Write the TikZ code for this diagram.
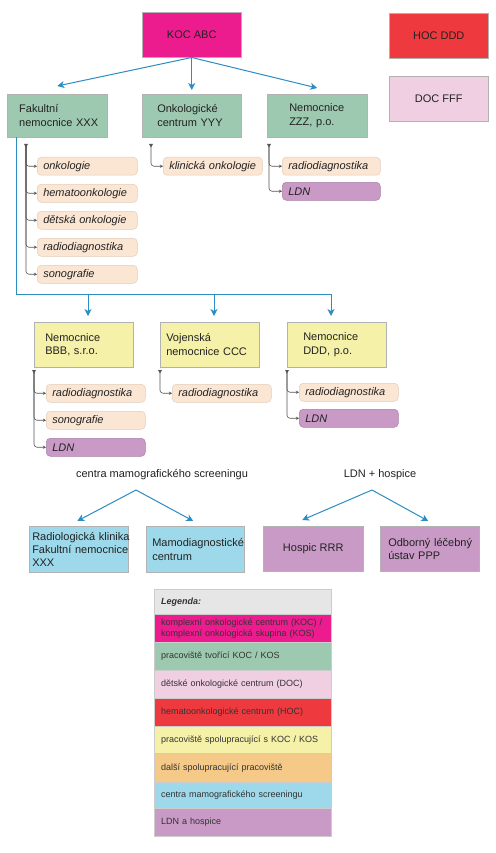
\documentclass[tikz,border=0pt]{standalone}
\usepackage{fontspec}
\setmainfont{Liberation Sans}
\usetikzlibrary{arrows.meta,calc}
\definecolor{cKOC}{HTML}{EC1C8E}
\definecolor{cRed}{HTML}{EE3A3E}
\definecolor{cPink}{HTML}{F0CFE3}
\definecolor{cGreen}{HTML}{9DC9B0}
\definecolor{cYellow}{HTML}{F5F1A9}
\definecolor{cOrange}{HTML}{F5CA88}
\definecolor{cBlue}{HTML}{9DD9EA}
\definecolor{cPurple}{HTML}{C99AC6}
\definecolor{cPeach}{HTML}{FBE6D4}
\definecolor{cPeachD}{HTML}{E3CDB9}
\definecolor{cPurpleD}{HTML}{A97EA6}
\definecolor{cGray}{HTML}{E6E6E6}
\definecolor{cArrow}{HTML}{2B8DC2}
\definecolor{cSub}{HTML}{555555}
\definecolor{cText}{HTML}{222222}
\begin{document}
\begin{tikzpicture}[x=1pt,y=-1pt,
  box/.style={draw=black!30, line width=0.5pt, minimum height=45pt, inner sep=0pt,
    font=\fontsize{11}{13.5}\selectfont, text=cText, anchor=north west},
  cbox/.style={box, minimum width=#1, align=center},
  lbox/.style 2 args={box, text width=#1, align=left, execute at begin node={\leftskip=#2\relax}},
  sbox/.style={draw=cPeachD, fill=cPeach, line width=0.5pt, rounded corners=4pt, minimum height=18pt,
    text width=#1, inner sep=0pt, align=left, font=\fontsize{11}{13}\selectfont\itshape, text=cText,
    anchor=north west, execute at begin node={\leftskip=6pt\relax}},
  ldn/.style={sbox=#1, fill=cPurple, draw=cPurpleD},
  leg/.style={anchor=north west, minimum height=#1, text width=177pt, inner sep=0pt, align=left,
    font=\fontsize{9}{11}\selectfont, text=black!80, draw=black!20, line width=0.4pt,
    execute at begin node={\leftskip=7pt\relax}},
  bl/.style={draw=cArrow, line width=1pt},
  bla/.style={bl, -{Stealth[length=7pt,width=7pt,inset=2pt]}},
  sub/.style={draw=cSub, line width=0.6pt, rounded corners=3pt, -{Stealth[length=3pt,width=3pt]}},
  ttl/.style={font=\fontsize{11}{13}\selectfont, text=cText}
]
\useasboundingbox (0,0) rectangle (495,853);
\fill[white] (0,0) rectangle (495,853);

% top row
\node[cbox=99pt, fill=cKOC] (koc) at (142,12) {KOC ABC};
\node[cbox=99pt, fill=cRed] (hoc) at (389,13) {HOC DDD};
\node[cbox=99pt, fill=cPink] (doc) at (389,76) {DOC FFF};

\node[lbox={100pt}{12pt}, fill=cGreen, minimum height=43pt] (fk) at (7,94) {Fakultní\\nemocnice~XXX};
\node[lbox={99pt}{15pt}, fill=cGreen, minimum height=43pt] (onk) at (142,94) {Onkologické\\centrum~YYY};
\node[lbox={100pt}{22pt}, fill=cGreen, minimum height=43pt] (zzz) at (267,94) {Nemocnice\\ZZZ,~p.o.};

\draw[bla] (koc.south) -- ($(fk.north)+(0,-8)$);
\draw[bla] (koc.south) -- ($(onk.north)+(0,-4)$);
\draw[bla] (koc.south) -- ($(zzz.north)+(0,-6)$);

% sub-lists row 1
\coordinate (fkt) at (26,145);
\coordinate (onkt) at (151,145);
\coordinate (zzzt) at (269,145);
\node[sbox=100pt] (f1) at (37,157) {onkologie};
\node[sbox=100pt] (f2) at (37,184) {hematoonkologie};
\node[sbox=100pt] (f3) at (37,211) {dětská onkologie};
\node[sbox=100pt] (f4) at (37,238) {radiodiagnostika};
\node[sbox=100pt] (f5) at (37,265) {sonografie};
\node[sbox=99pt] (o1) at (163,157) {klinická onkologie};
\node[sbox=98pt] (z1) at (282,157) {radiodiagnostika};
\node[ldn=98pt] (z2) at (282,182) {LDN};
\foreach \n in {f1,f2,f3,f4,f5} \draw[sub] (fkt) |- (\n.west);
\draw[sub] (onkt) |- (o1.west);
\foreach \n in {z1,z2} \draw[sub] (zzzt) |- (\n.west);

% bus to second row
\coordinate (b1) at (88,294);
\coordinate (b2) at (214,294);
\coordinate (b3) at (331,294);
\draw[bl] ($(fk.south west)+(9,0)$) |- (b3);

\node[lbox={99pt}{11pt}, fill=cYellow] (bbb) at (34,322) {Nemocnice\\BBB,~s.r.o.};
\node[lbox={99pt}{6pt}, fill=cYellow] (voj) at (160,322) {Vojenská\\nemocnice~CCC};
\node[lbox={99pt}{16pt}, fill=cYellow] (ddd) at (287,322) {Nemocnice\\DDD,~p.o.};

\draw[bla] (b1) -- ($(b1 |- bbb.north)+(0,-6)$);
\draw[bla] (b2) -- ($(b2 |- voj.north)+(0,-6)$);
\draw[bla] (b3) -- ($(b3 |- ddd.north)+(0,-6)$);

% sub-lists row 2
\coordinate (bbbt) at (34,371);
\coordinate (vojt) at (160,371);
\coordinate (dddt) at (287,371);
\node[sbox=99pt] (bb1) at (46,384) {radiodiagnostika};
\node[sbox=99pt] (bb2) at (46,411) {sonografie};
\node[ldn=99pt] (bb3) at (46,438) {LDN};
\node[sbox=99pt] (v1) at (172,384) {radiodiagnostika};
\node[sbox=99pt] (d1) at (299,383) {radiodiagnostika};
\node[ldn=99pt] (d2) at (299,409) {LDN};
\foreach \n in {bb1,bb2,bb3} \draw[sub] (bbbt) |- (\n.west);
\draw[sub] (vojt) |- (v1.west);
\foreach \n in {d1,d2} \draw[sub] (dddt) |- (\n.west);

% top marks
\foreach \c in {fkt,onkt,zzzt,bbbt,vojt,dddt}
  \fill[cSub] ($(\c)+(-2,-1)$) -- ($(\c)+(2,-1)$) -- ($(\c)+(0,2.5)$) -- cycle;

% bottom groups
\node[ttl] (mt) at (162,475) {centra mamografického screeningu};
\node[ttl] (lt) at (380,475) {LDN + hospice};
\coordinate (ms) at (136,490);
\coordinate (ls) at (372,490);

\node[lbox={99pt}{3pt}, fill=cBlue, minimum height=46pt, font=\fontsize{11}{13.3}\selectfont] (rad) at (29,526) {Radiologická~klinika\\Fakultní~nemocnice\\XXX};
\node[lbox={98pt}{6pt}, fill=cBlue, minimum height=46pt] (mam) at (146,526) {Mamodiagnostické\\centrum};
\node[cbox=100pt, fill=cPurple] (hos) at (263,526) {Hospic RRR};
\node[lbox={99pt}{8pt}, fill=cPurple] (odb) at (380,526) {Odborný~léčebný\\ústav~PPP};

\draw[bla] (ms) -- ($(rad.north)+(-1.5,-5)$);
\draw[bla] (ms) -- ($(mam.north)+(-2,-5)$);
\draw[bla] (ls) -- ($(hos.north)+(-11,-6)$);
\draw[bla] (ls) -- ($(odb.north)+(-1.5,-5)$);

% legend
\node[leg=25pt, fill=cGray] (lg0) at (154,589) {\textbf{\textit{Legenda:}}};
\node[leg=28pt, fill=cKOC] (lg1) at (154,614) {komplexní onkologické centrum (KOC) /\\komplexní onkologická skupina (KOS)};
\node[leg=28pt, fill=cGreen] (lg2) at (154,642) {pracoviště tvořící KOC / KOS};
\node[leg=28pt, fill=cPink] (lg3) at (154,670) {dětské onkologické centrum (DOC)};
\node[leg=28pt, fill=cRed] (lg4) at (154,698) {hematoonkologické centrum (HOC)};
\node[leg=27pt, fill=cYellow] (lg5) at (154,726) {pracoviště spolupracující s KOC / KOS};
\node[leg=29pt, fill=cOrange] (lg6) at (154,753) {další spolupracující pracoviště};
\node[leg=26pt, fill=cBlue] (lg7) at (154,782) {centra mamografického screeningu};
\node[leg=28pt, fill=cPurple] (lg8) at (154,808) {LDN a hospice};
\end{tikzpicture}
\end{document}
